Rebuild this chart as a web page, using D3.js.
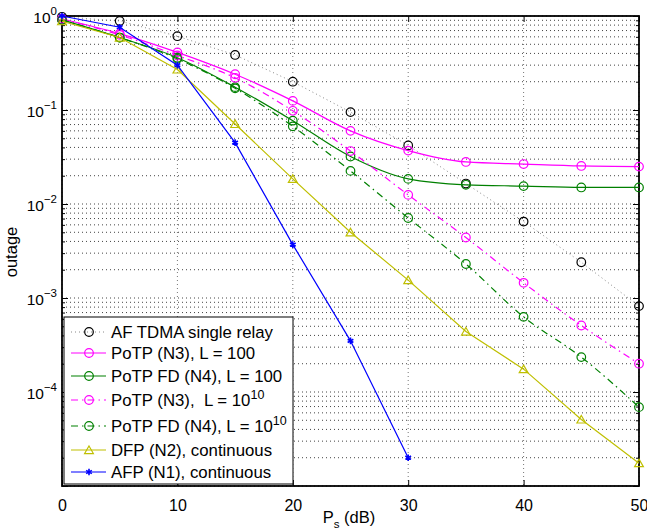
<!DOCTYPE html>
<html>
<head>
<meta charset="utf-8">
<script src="https://cdn.jsdelivr.net/npm/d3@7/dist/d3.min.js"></script>
<style>
  body { margin: 0; background: #fff; }
  svg { font-family: "Liberation Sans", Arial, sans-serif; }
</style>
</head>
<body>
<svg id="chart"></svg>
<script>
var width = 647;
var height = 530;

// Ps (dB)
var snr = [0, 5, 10, 15, 20, 25, 30, 35, 40, 45, 50];
var snrAfp = [0, 5, 10, 15, 20, 25, 30];

var afTdma = [0.98, 0.885, 0.61, 0.385, 0.20, 0.095, 0.042, 0.0165, 0.0065, 0.0024, 0.00082];
var potpN3L100 = [0.93, 0.65, 0.41, 0.24, 0.125, 0.06, 0.037, 0.028, 0.0266, 0.0254, 0.025];
var potpFdN4L100 = [0.91, 0.59, 0.36, 0.175, 0.077, 0.032, 0.0185, 0.016, 0.0155, 0.015, 0.015];
var potpN3L1e10 = [0.93, 0.63, 0.38, 0.22, 0.098, 0.0366, 0.0125, 0.0044, 0.00145, 0.00051, 0.0002];
var potpFdN4L1e10 = [0.91, 0.59, 0.35, 0.17, 0.067, 0.0225, 0.0071, 0.0023, 0.00063, 0.000235, 0.000069];
var dfpN2 = [0.88, 0.59, 0.27, 0.071, 0.0185, 0.005, 0.00155, 0.00044, 0.000175, 0.000051, 0.0000175];
var afpN1 = [1.0, 0.76, 0.30, 0.045, 0.0037, 0.00035, 0.00002];

var xTicks = [0, 10, 20, 30, 40, 50];
var yMajor = [1e-5, 1e-4, 1e-3, 1e-2, 1e-1, 1];
var yLabelled = [1e-4, 1e-3, 1e-2, 1e-1, 1];

var series = [
  {name: 'AF TDMA single relay', sup: null, x: snr, y: afTdma, color: '#000', line: '#888', dash: '1,3', marker: 'circle', smooth: false},
  {name: 'PoTP (N3), L = 100', sup: null, x: snr, y: potpN3L100, color: '#ff00ff', line: '#ff00ff', dash: null, marker: 'circle', smooth: true},
  {name: 'PoTP FD (N4), L = 100', sup: null, x: snr, y: potpFdN4L100, color: '#008000', line: '#008000', dash: null, marker: 'circle', smooth: true},
  {name: 'PoTP (N3),  L = 10', sup: '10', x: snr, y: potpN3L1e10, color: '#ff00ff', line: '#ff00ff', dash: '7,4,1.5,4', marker: 'circle', smooth: true},
  {name: 'PoTP FD (N4), L = 10', sup: '10', x: snr, y: potpFdN4L1e10, color: '#008000', line: '#008000', dash: '7,4,1.5,4', marker: 'circle', smooth: true},
  {name: 'DFP (N2), continuous', sup: null, x: snr, y: dfpN2, color: '#bfbf00', line: '#bfbf00', dash: null, marker: 'triangle', smooth: false},
  {name: 'AFP (N1), continuous', sup: null, x: snrAfp, y: afpN1, color: '#0000ff', line: '#0000ff', dash: null, marker: 'star', smooth: false}
];

var padL = 62, padR = 639, padT = 16, padB = 486;

var xScale = d3.scaleLinear().domain([0, 50]).range([padL, padR]);
var yScale = d3.scaleLog().domain([1e-5, 1]).range([padB, padT]);

var svg = d3.select('#chart').attr('width', width).attr('height', height);

// grid
var yAll = yScale.ticks();
svg.append('g')
  .selectAll('line')
  .data(yAll)
  .enter()
  .append('line')
  .attr('x1', padL).attr('x2', padR)
  .attr('y1', d => yScale(d)).attr('y2', d => yScale(d))
  .attr('stroke', '#444')
  .attr('stroke-width', 1)
  .attr('stroke-dasharray', '1,3');

svg.append('g')
  .selectAll('line')
  .data(xTicks)
  .enter()
  .append('line')
  .attr('x1', d => xScale(d)).attr('x2', d => xScale(d))
  .attr('y1', padT).attr('y2', padB)
  .attr('stroke', '#777')
  .attr('stroke-width', 1)
  .attr('stroke-dasharray', '1,3');

// axes (ticks inside)
function styleAxis(g) {
  g.select('.domain').remove();
  g.selectAll('.tick line').attr('stroke', '#000');
}
var minor = yAll.filter(d => yMajor.indexOf(d) < 0);
svg.append('g').attr('transform', 'translate(' + padL + ',0)')
  .call(d3.axisLeft(yScale).tickValues(minor).tickSize(-3).tickFormat('')).call(styleAxis);
svg.append('g').attr('transform', 'translate(' + padR + ',0)')
  .call(d3.axisRight(yScale).tickValues(minor).tickSize(-3).tickFormat('')).call(styleAxis);
svg.append('g').attr('transform', 'translate(' + padL + ',0)')
  .call(d3.axisLeft(yScale).tickValues(yMajor).tickSize(-6).tickFormat('')).call(styleAxis);
svg.append('g').attr('transform', 'translate(' + padR + ',0)')
  .call(d3.axisRight(yScale).tickValues(yMajor).tickSize(-6).tickFormat('')).call(styleAxis);
svg.append('g').attr('transform', 'translate(0,' + padT + ')')
  .call(d3.axisTop(xScale).tickValues(xTicks).tickSize(-6).tickFormat('')).call(styleAxis);
var xAx = svg.append('g').attr('transform', 'translate(0,' + padB + ')')
  .call(d3.axisBottom(xScale).tickValues(xTicks).tickSize(-6).tickPadding(14).tickFormat(d3.format('d')));
xAx.call(styleAxis);
xAx.selectAll('text').attr('font-size', 16).attr('fill', '#000').attr('font-family', '"Liberation Sans", Arial, sans-serif');

// y labels 10^n
var yLab = svg.append('g');
yLabelled.forEach(function (v) {
  var t = yLab.append('text')
    .attr('x', padL - 5)
    .attr('y', yScale(v) + 7)
    .attr('text-anchor', 'end')
    .attr('font-size', 15.5);
  t.append('tspan').text('10');
  t.append('tspan').attr('dy', -8).attr('font-size', 11.5)
    .text(v === 1 ? '0' : '\u2212' + Math.round(-Math.log10(v)));
});

// frame
svg.append('rect')
  .attr('x', padL).attr('y', padT)
  .attr('width', padR - padL).attr('height', padB - padT)
  .attr('fill', 'none').attr('stroke', '#000').attr('stroke-width', 1.8);

// markers
function drawMarker(g, s, cx, cy) {
  if (s.marker === 'circle') {
    g.append('circle').attr('cx', cx).attr('cy', cy).attr('r', 4.3)
      .attr('fill', 'none').attr('stroke', s.color).attr('stroke-width', 1.2);
  } else if (s.marker === 'triangle') {
    g.append('path').attr('transform', 'translate(' + cx + ',' + (cy + 1) + ')')
      .attr('d', d3.symbol(d3.symbolTriangle2, 55)())
      .attr('fill', 'none').attr('stroke', s.color).attr('stroke-width', 1.2);
  } else {
    g.append('path').attr('transform', 'translate(' + cx + ',' + cy + ')')
      .attr('d', d3.symbol(d3.symbolAsterisk, 30)())
      .attr('fill', 'none').attr('stroke', s.color).attr('stroke-width', 1.6);
  }
}

series.forEach(function (s) {
  var pts = s.x.map((d, i) => [d, s.y[i]]);
  var line = d3.line()
    .x(d => xScale(d[0]))
    .y(d => yScale(d[1]))
    .curve(s.smooth ? d3.curveMonotoneX : d3.curveLinear);
  var g = svg.append('g');
  g.append('path')
    .attr('d', line(pts))
    .attr('fill', 'none')
    .attr('stroke', s.line)
    .attr('stroke-width', s.dash === '1,3' ? 1 : 1.2)
    .attr('stroke-dasharray', s.dash);
  pts.forEach(p => drawMarker(g, s, xScale(p[0]), yScale(p[1])));
});

// legend
var lg = svg.append('g');
lg.append('rect')
  .attr('x', 64).attr('y', 317)
  .attr('width', 229).attr('height', 167)
  .attr('fill', '#fff').attr('stroke', '#000').attr('stroke-width', 1);
var rowY = [332, 353, 376, 400, 426, 450, 472];
series.forEach(function (s, i) {
  var yy = rowY[i];
  lg.append('line')
    .attr('x1', 71).attr('x2', 106).attr('y1', yy).attr('y2', yy)
    .attr('stroke', s.line)
    .attr('stroke-width', s.dash === '1,3' ? 1 : 1.2)
    .attr('stroke-dasharray', s.dash);
  drawMarker(lg, s, 89, yy);
  var t = lg.append('text')
    .attr('x', 111).attr('y', yy + 6)
    .attr('font-size', 16.8)
    .style('white-space', 'pre')
    .text(s.name);
  if (s.sup) {
    t.append('tspan').attr('dy', -7).attr('font-size', 12.5).text(s.sup);
  }
});

// axis titles
var xl = svg.append('text')
  .attr('x', 349).attr('y', 523)
  .attr('text-anchor', 'middle')
  .attr('font-size', 16.5);
xl.append('tspan').text('P');
xl.append('tspan').attr('dy', 5).attr('font-size', 11.5).text('s');
xl.append('tspan').attr('dy', -5).text(' (dB)');

svg.append('text')
  .attr('transform', 'rotate(-90)')
  .attr('x', -252)
  .attr('y', 17)
  .attr('text-anchor', 'middle')
  .attr('font-size', 16.5)
  .text('outage');
</script>
</body>
</html>
